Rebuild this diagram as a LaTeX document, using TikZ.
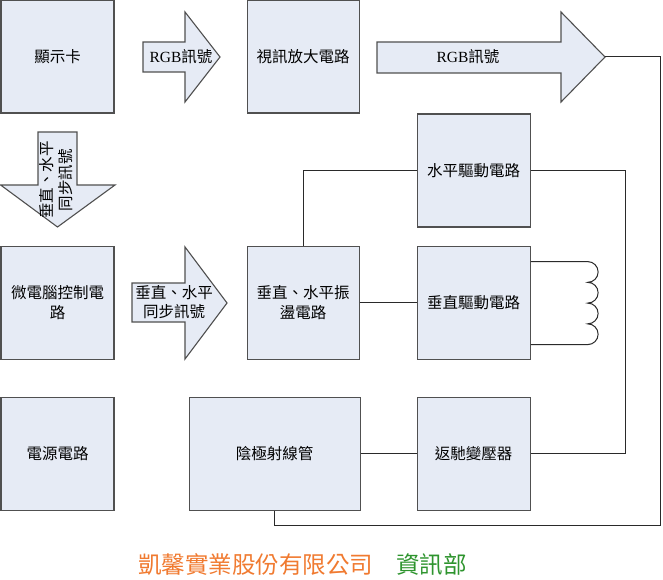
\documentclass[tikz,border=0pt]{standalone}
\usepackage{fontspec}
\setmainfont{Noto Sans CJK TC}
\newfontfamily\latinserif{Liberation Serif}
\usepackage{xcolor}
\definecolor{boxfill}{HTML}{E6EBF5}
\definecolor{boxline}{HTML}{505050}
\definecolor{wireline}{HTML}{2A2A2A}
\definecolor{corp}{HTML}{F07A30}
\definecolor{dept}{HTML}{2E942E}
\usetikzlibrary{positioning,calc}

\begin{document}
\begin{tikzpicture}[
  x=1pt,y=-1pt,
  font=\fontsize{15.5}{19.5}\selectfont,
  unit/.style={draw=boxline,line width=1.1pt,fill=boxfill,
    minimum width=113pt,minimum height=113pt,align=center,inner sep=2pt},
  sig/.style={draw=boxline,line width=1.1pt,fill=boxfill,line join=miter},
  siglabel/.style={align=center,inner sep=0pt},
  wire/.style={draw=wireline,line width=1pt}
]
\useasboundingbox (0,0) rectangle (663,580);

\node[unit] (disp) at (57.5,56.5) {顯示卡};
\node[unit,minimum width=112pt,right=132pt of disp] (amp) {視訊放大電路};
\node[unit,below=132pt of disp] (mcu) {微電腦控制電\\路};
\node[unit,minimum width=112pt,below=132pt of amp] (osc) {垂直、水平振\\盪電路};
\node[unit,right=57pt of osc] (vdrv) {垂直驅動電路};
\node[unit,above=18pt of vdrv] (hdrv) {水平驅動電路};
\node[unit,below=37pt of mcu] (psu) {電源電路};
\node[unit,below=37pt of vdrv] (fbt) {返馳變壓器};
\node[unit,minimum width=171pt,left=56pt of fbt] (crt) {陰極射線管};

\draw[sig] (143,42) -- (185,42) -- (185,12) -- (220,57) -- (185,102) -- (185,72) -- (143,72) -- cycle;
\node[siglabel] (rgbin) at (181,57) {{\latinserif RGB}訊號};
\draw[sig] (377,42) -- (561,42) -- (561,12) -- (605,57) -- (561,102) -- (561,73) -- (377,73) -- cycle;
\node[siglabel] (rgbout) at (468,57) {{\latinserif RGB}訊號};
\coordinate (rgbtip) at (605,57);
\draw[sig] (38,132) -- (77,132) -- (77,185) -- (115,185) -- (57.5,227) -- (0.6,185) -- (38,185) -- cycle;
\node[siglabel,rotate=90] (synca) at (56,180) {垂直、水平\\同步訊號};
\draw[sig] (132,283) -- (185,283) -- (185,247) -- (227,303) -- (185,359) -- (185,322) -- (132,322) -- cycle;
\node[siglabel] (syncb) at (174,302) {垂直、水平\\同步訊號};

\draw[wire] (osc.north) |- (hdrv.west);
\draw[wire] (osc) -- (vdrv);
\draw[wire] (hdrv.east) -- ++(95,0) |- (fbt.east);
\draw[wire] (crt) -- (fbt);
\draw[wire] ([yshift=41pt]vdrv.east) -- ++(57,0)
  arc[start angle=-90,end angle=90,radius=10.375]
  arc[start angle=-90,end angle=90,radius=10.375]
  arc[start angle=-90,end angle=90,radius=10.375]
  arc[start angle=-90,end angle=90,radius=10.375]
  -- ([yshift=-42pt]vdrv.east);
\coordinate (lowturn) at (660,525);
\draw[wire] (rgbtip) -| (lowturn) -| (crt.south);

\node[inner sep=0pt,text=corp,font=\fontsize{23.5}{28}\selectfont] (corpname) at (255.5,565) {凱馨實業股份有限公司};
\node[inner sep=0pt,text=dept,font=\fontsize{23.5}{28}\selectfont,right=23pt of corpname] (deptname) {資訊部};
\end{tikzpicture}
\end{document}
